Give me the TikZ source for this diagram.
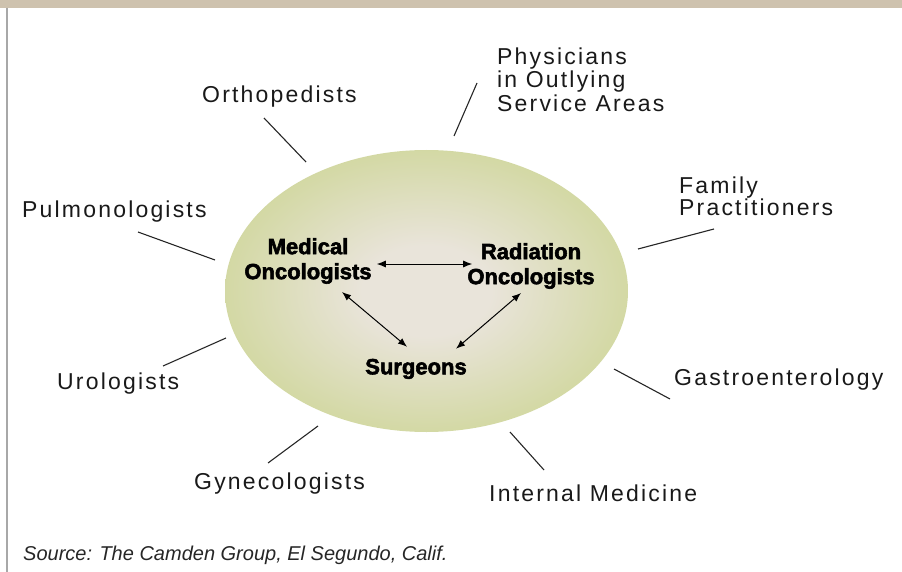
\documentclass[tikz,border=0pt]{standalone}
\usepackage{fontspec}
\setmainfont{Liberation Sans}
\newfontfamily\labfont[LetterSpace=9.5]{Liberation Sans}
\newfontfamily\heavyfont[FakeBold=2.5]{Liberation Sans Bold}
\usetikzlibrary{shapes.geometric,arrows.meta}
\definecolor{barcol}{HTML}{CEC2AE}
\definecolor{framecol}{HTML}{A8A8A8}
\definecolor{cin}{HTML}{E9E4DA}
\definecolor{cout}{HTML}{C9D38B}
\pgfdeclareradialshading{coreshade}{\pgfpointorigin}{color(0bp)=(cin); color(8bp)=(cin); color(33bp)=(cout); color(50bp)=(cout)}
\begin{document}
\begin{tikzpicture}[x=1pt,y=-1pt,
  lab/.style={font=\labfont\fontsize{23}{23.5}\selectfont, inner sep=0pt, text=black!90},
  core/.style={font=\heavyfont\fontsize{22}{25}\selectfont, inner sep=0pt, align=center},
  spoke/.style={line width=1.1pt, black!85},
  dbl/.style={line width=1pt, {Latex[length=9pt,width=7pt]}-{Latex[length=9pt,width=7pt]}}]
\useasboundingbox (0,0) rectangle (902,572);
% frame
\fill[barcol] (0,0) rectangle (902,8);
\draw[framecol, line width=1.5pt] (7,8) -- (7,572);
% central ellipse
\node[ellipse, shading=coreshade, minimum width=403pt, minimum height=282pt, inner sep=0pt] (ell) at (426.5,291) {};
% central labels
\node[core, anchor=north] (med) at (308,238) {Medical\\Oncologists};
\node[core, anchor=north] (rad) at (531,243) {Radiation\\Oncologists};
\node[core, anchor=base] (surg) at (416,374.3) {Surgeons};
\draw[dbl] ([shift={(5,3)}]med.east) -- ([shift={(5,3)}]med.east -| rad.west);
\draw[dbl] ([shift={(34,8)}]med.south) -- ([shift={(-9,-12)}]surg.north);
\draw[dbl] ([shift={(-10,4)}]rad.south) -- ([shift={(40,-10)}]surg.north);
% outer labels
\node[lab, anchor=base west] (ortho) at (202,102.5) {Orthopedists};
\node[lab, anchor=base west] (pulmo) at (22,218) {Pulmonologists};
\node[lab, anchor=north west, align=left] (phys) at (497,47.5) {Physicians\\in Outlying\\Service Areas};
\node[lab, anchor=north west, align=left, font=\labfont\fontsize{23}{20}\selectfont] (fam) at (679,176.5) {Family\\Practitioners};
\node[lab, anchor=base west] (uro) at (57,389.3) {Urologists};
\node[lab, anchor=base west] (gyn) at (194,489.3) {Gynecologists};
\node[lab, anchor=base west] (gastro) at (674,385.7) {Gastroenterology};
\node[lab, anchor=base west] (intmed) at (489,501.7) {Internal Medicine};
% spokes
\coordinate (o1) at (264,118); \coordinate (o2) at (306,162);
\coordinate (p1) at (138,232); \coordinate (p2) at (215,260);
\coordinate (h1) at (477,83);  \coordinate (h2) at (454,136);
\coordinate (f1) at (714,229); \coordinate (f2) at (638,249);
\coordinate (u1) at (163,366); \coordinate (u2) at (226,338);
\coordinate (g1) at (268,463); \coordinate (g2) at (318,426);
\coordinate (e1) at (670,399); \coordinate (e2) at (614,369);
\coordinate (i1) at (544,470); \coordinate (i2) at (510,432);
\draw[spoke] (o1) -- (o2);
\draw[spoke] (p1) -- (p2);
\draw[spoke] (h1) -- (h2);
\draw[spoke] (f1) -- (f2);
\draw[spoke] (u1) -- (u2);
\draw[spoke] (g1) -- (g2);
\draw[spoke] (e1) -- (e2);
\draw[spoke] (i1) -- (i2);
% source
\node[anchor=base west, inner sep=0pt, font=\itshape\fontsize{20}{22}\selectfont, text=black!85] (src) at (23,560) {Source: The Camden Group, El Segundo, Calif.};
\end{tikzpicture}
\end{document}
